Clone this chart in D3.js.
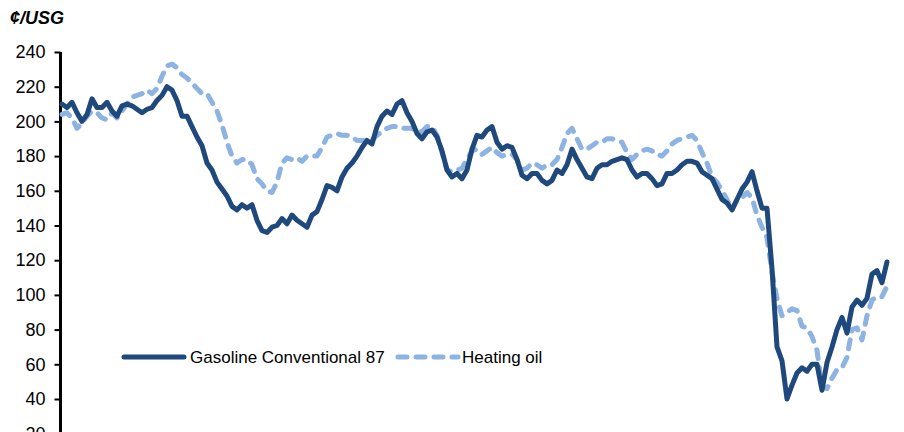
<!DOCTYPE html>
<html>
<head>
<meta charset="utf-8">
<script src="https://cdn.jsdelivr.net/npm/d3@7"></script>
<style>
  html, body { margin: 0; padding: 0; background: #fff; }
  svg { display: block; }
</style>
</head>
<body>
<svg id="chart" width="904" height="432"></svg>
<script>
// ---- Data (one point every ~5 px) ----
const gasoline = [
  210,208,211,205,200,204,213,208,208,211,206,203,209,210,209,207,205,207,208,212,
  215,220,218,212,203,203,197,191,186,176,172,165,161,157,151,149,152,150,152,143,
  137,136,139,140,144,141,146,143,141,139,146,148,155,163,162,160,168,173,176,180,
  185,189,187,197,203,206,204,210,212,205,200,193,190,194,195,191,183,172,168,170,
  167,172,184,192,191,195,197,188,184,186,185,178,169,167,170,170,166,164,166,172,
  170,175,184,178,173,168,167,173,175,175,177,178,179,178,172,168,170,170,167,163,
  164,170,170,172,175,177,177,176,171,169,167,161,155,153,149,155,161,165,171,160,
  150,150,115,70,62,40,48,55,58,56,60,60,45,61,70,80,87,78,93,97,
  94,98,112,114,107,119
];
const heatingOil = [
  204,205,202,196,199,203,206,205,202,201,205,202,206,210,214,215,216,218,216,219,
  226,232,233,231,227,225,222,219,216,216,211,206,198,188,180,176,178,178,175,167,
  164,160,159,165,176,179,178,179,177,180,180,180,185,191,192,193,192,192,191,189,
  189,189,189,192,194,196,197,197,196,196,196,194,194,197,197,192,182,172,171,172,
  173,178,183,184,181,183,185,182,180,181,181,178,172,173,176,175,173,175,175,178,
  185,193,196,190,184,184,186,188,188,190,190,189,188,182,178,181,183,184,183,181,
  180,183,187,189,190,191,192,189,182,176,168,165,160,155,149,155,156,159,156,146,
  139,133,113,98,88,90,92,91,82,81,76,68,47,46,52,57,58,64,80,81,
  74,88,97,99,99,105
];
const seriesNames = ["Gasoline Conventional 87", "Heating oil"];
const yTicks = [20, 40, 60, 80, 100, 120, 140, 160, 180, 200, 220, 240];
const unitLabel = "¢/USG";

// ---- Layout ----
const svg = d3.select("#chart");
const x0 = 62, x1 = 887;
const yTop = 52, yBottom = 433.7;
const darkBlue = "#1F497D", lightBlue = "#8DB3E2";
const font = "'Liberation Sans', Arial, sans-serif";
const dash = "9,9";

const x = d3.scaleLinear().domain([0, gasoline.length - 1]).range([x0, x1]);
const y = d3.scaleLinear().domain([20, 240]).range([yBottom, yTop]);

// Title
svg.append("text")
  .attr("x", 10).attr("y", 24)
  .attr("font-family", font).attr("font-size", 18)
  .attr("font-weight", "bold").attr("font-style", "italic")
  .attr("fill", "#000")
  .text(unitLabel);

// Y axis
const yAxis = d3.axisLeft(y).tickValues(yTicks).tickSize(6).tickPadding(9).tickFormat(d3.format("d"));
const gAxis = svg.append("g").attr("transform", `translate(${x0 - 1.5},0)`).call(yAxis);
gAxis.select(".domain").remove();
gAxis.selectAll(".tick line").attr("stroke", "#000").attr("stroke-width", 2);
gAxis.selectAll(".tick text")
  .attr("font-family", font).attr("font-size", 18).attr("fill", "#000");
svg.append("line")
  .attr("x1", x0 - 1.5).attr("x2", x0 - 1.5)
  .attr("y1", yTop).attr("y2", 440)
  .attr("stroke", "#000").attr("stroke-width", 3);

// Lines
const line = d3.line().x((d, i) => x(i)).y(d => y(d));
svg.append("path")
  .datum(heatingOil)
  .attr("d", line)
  .attr("fill", "none")
  .attr("stroke", lightBlue)
  .attr("stroke-width", 5)
  .attr("stroke-linecap", "round")
  .attr("stroke-linejoin", "round")
  .attr("stroke-dasharray", dash);
svg.append("path")
  .datum(gasoline)
  .attr("d", line)
  .attr("fill", "none")
  .attr("stroke", darkBlue)
  .attr("stroke-width", 5)
  .attr("stroke-linecap", "round")
  .attr("stroke-linejoin", "round");

// Legend
const legend = svg.append("g");
const legendItems = [
  { name: seriesNames[0], color: darkBlue, dash: null, lx: 124, tx: 190 },
  { name: seriesNames[1], color: lightBlue, dash: dash, lx: 398, tx: 462 }
];
legendItems.forEach(it => {
  legend.append("line")
    .attr("x1", it.lx).attr("x2", it.lx + 60)
    .attr("y1", 357).attr("y2", 357)
    .attr("stroke", it.color).attr("stroke-width", 5)
    .attr("stroke-linecap", "round")
    .attr("stroke-dasharray", it.dash);
  legend.append("text")
    .attr("x", it.tx).attr("y", 363)
    .attr("font-family", font).attr("font-size", 17).attr("fill", "#000")
    .text(it.name);
});
</script>
</body>
</html>
